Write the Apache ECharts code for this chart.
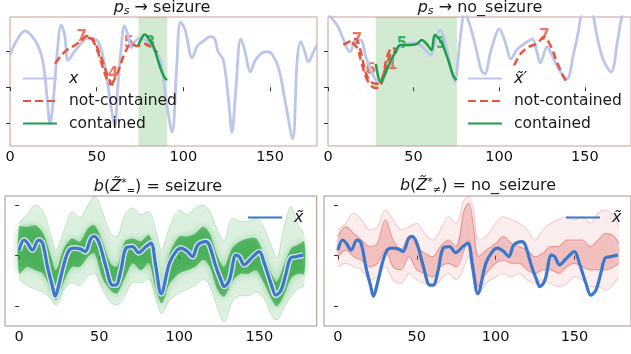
<!DOCTYPE html>
<html>
<head>
<meta charset="utf-8">
<script src="https://cdn.jsdelivr.net/npm/echarts@6/dist/echarts.min.js"></script>
<style>
  html, body { margin: 0; padding: 0; background: #fff; }
  #chart { width: 631px; height: 354px; }
</style>
</head>
<body>
<div id="chart"></div>
<script>
// ---- top left: p_s -> seizure ----
var tlX = [[0,0.90],[4,1.32],[8.7,1.57],[12,1.46],[16,1.18],[19,0.71],[21.5,-0.33],[23,-1.03],[25,-0.35],[27,0.85],[29.5,1.74],[31.5,1.46],[33.5,0.75],[37,0.99],[42,1.27],[45,1.38],[50,1.32],[53,0.99],[56,0.20],[58.5,-0.63],[60.5,-1.10],[62,-0.08],[64,1.04],[66,1.71],[68,1.46],[70,1.10],[72,1.27],[75,1.38],[78,1.32],[81,1.18],[84,0.99],[87,0.71],[90,-0.35],[93.5,-1.25],[96,0.48],[98.3,1.82],[101,1.60],[105,0.82],[108,1.15],[111,1.27],[115.6,1.41],[118,1.35],[120,0.99],[123,0.76],[126,-0.35],[128,-1.25],[130,-0.20],[133,1.35],[135,1.10],[138.7,0.43],[141,0.71],[144.5,0.93],[148,0.99],[151,0.93],[155,0.51],[159,-0.49],[163,-1.44],[165.5,0.71],[167.6,1.27],[170,0.99],[172,0.71],[175,0.99],[177,1.18]];
var tlRedA = [[26,0.66],[28.9,0.85],[32.8,1.04],[37.6,1.18],[41.6,1.32],[44,1.43],[46.2,1.41],[50,1.07],[53.8,0.51],[56.6,0.15],[58.4,0.06]];
var tlRedB = [[45.1,1.38],[48,1.32],[52,0.90],[55.5,0.43],[57.8,0.15],[59.5,0.06]];
var tlRedC = [[58.4,0.06],[61.8,0.37],[65.3,0.85],[68.2,1.15],[69.4,1.21],[73.4,1.15],[78,1.21],[82,1.10],[85,0.96]];
var tlGreen = [[74,1.17],[76,1.38],[77.6,1.47],[79,1.42],[81,1.28],[83,1.10],[85,0.80],[87,0.50],[89,0.28],[90.5,0.20]];
var tlShade = [74, 90.7];
var tlRedTags = [[41.4,1.40,'7'],[59.5,0.38,'4'],[68.4,1.22,'5']];
var tlGreenTags = [[80.9,1.22,'3']];

// ---- top right: p_s -> no_seizure ----
var trX = [[0,2.05],[3,1.88],[6,1.68],[8.6,1.38],[11,1.10],[13,0.99],[16,1.32],[19,1.32],[22,0.87],[25,0.48],[28,0.20],[31,0.12],[34,0.43],[37,0.76],[42,1.13],[46,1.21],[50,1.24],[54,1.18],[57,1.04],[60,0.90],[63,1.38],[65.5,1.60],[68,1.32],[71,0.71],[74,0.15],[77,1.27],[80,2.10],[83,1.71],[86,1.18],[89.5,0.48],[91.5,0.37],[95,0.99],[98,1.46],[100,1.63],[104,1.18],[106.8,0.79],[110.7,1.07],[116.4,1.27],[119.3,1.35],[122,0.99],[124,0.68],[128,1.13],[130.8,0.90],[134.7,0.51],[139.5,0.23],[143.3,0.90],[146.2,1.54],[148,2.02],[151,2.22],[154,2.16],[157,1.46],[160.6,0.79],[165.4,0.43],[169.3,1.35],[172,2.02],[175,2.22]];
var trRedA = [[9,1.18],[12.5,1.27],[16,1.35],[19,1.02],[21,0.60],[23,0.30],[26,0.12],[29,0.10],[32,0.30],[34.5,0.85],[37.5,1.10],[40,1.05]];
var trRedB = [[14,1.25],[17,1.10],[19.5,0.70],[22,0.30],[25,0.05],[28,-0.02],[31,0.08],[33,0.45],[35.5,0.80],[38,1.00],[40.5,0.98]];
var trRedC = [[108.7,0.61],[112.6,0.94],[117.4,1.13],[122.2,1.22],[126,1.40],[129.9,1.17],[133.7,0.71],[137.6,0.29],[139.5,0.15]];
var trGreen = [[28,0.65],[30.7,0.15],[35.5,0.62],[39.4,0.99],[42.3,1.18],[48,1.18],[52,1.21],[54.8,1.32],[57.6,1.21],[60.5,1.04],[62.4,1.46],[66,1.27],[70,0.79],[73,0.34],[75,0.20]];
var trShade = [27.9, 75.3];
var trRedTags = [[16.9,1.31,'7'],[25,0.47,'6'],[37.5,0.61,'1'],[126.4,1.43,'7']];
var trGreenTags = [[43.2,1.19,'5'],[66.3,1.19,'3']];

// ---- bottom: x~ and the sampled neighbourhoods ----
var xTilde = [[0,0.11],[3,0.31],[5.2,0.25],[8.3,0.11],[12.1,0.31],[14.6,0.25],[17.7,-0.22],[20.8,-0.61],[22.5,-0.80],[25,-0.55],[28.1,-0.15],[31.2,0.11],[34.4,0.15],[38.5,0.13],[41.2,0.08],[44.8,0.34],[46.9,0.38],[50,0.25],[54.2,-0.22],[58.3,-0.58],[60.4,-0.58],[63.6,-0.28],[66.7,0.15],[70.8,0.18],[74.6,0.06],[79.2,0.18],[82.3,0.25],[85.4,-0.22],[88.7,-0.75],[93.8,-0.15],[97.9,0.08],[101,0.15],[105.2,0.08],[108.3,-0.02],[111.5,0.21],[116.7,0.28],[118.8,0.21],[122.9,-0.22],[126,-0.48],[128.1,-0.61],[131.3,-0.48],[135.4,0.01],[137.5,-0.02],[140.6,-0.18],[143.8,-0.09],[146.9,0.01],[150,0.08],[153.1,-0.15],[157.3,-0.55],[160.4,-0.78],[163.6,-0.68],[166.7,-0.35],[169.4,-0.05],[172.9,-0.02],[177.5,0.01]];

var blSteps = [0,5,10,15,20,23,28,33,38,43,47,52,57,61,66,71,76,81,85,89,94,100,105,110,115,119,124,128,133,138,143,148,153,158,161,165,170,174,178];
var blCoreHi = [0.57,0.57,0.60,0.44,-0.02,-0.29,0.15,0.34,0.28,0.54,0.60,0.28,-0.15,-0.22,0.28,0.34,0.28,0.41,0.02,-0.55,0.05,0.38,0.38,0.44,0.57,0.44,-0.02,-0.22,0.15,0.28,0.34,0.34,0.02,-0.38,-0.51,-0.22,0.15,0.21,0.28];
var blCoreLo = [-0.35,-0.22,-0.29,-0.36,-0.68,-0.88,-0.51,-0.22,-0.22,-0.02,0.05,-0.44,-0.68,-0.75,-0.44,-0.15,-0.29,-0.15,-0.62,-0.94,-0.55,-0.35,-0.29,-0.22,-0.08,-0.22,-0.68,-0.81,-0.51,-0.36,-0.36,-0.29,-0.55,-0.88,-1.00,-0.81,-0.44,-0.36,-0.36];
var blOuterHi = [0.64,0.81,1.00,0.87,0.38,0.11,0.50,0.87,0.74,1.00,1.17,0.87,0.44,0.38,0.81,0.94,0.81,0.87,0.54,0.11,0.57,0.90,0.81,0.94,1.00,0.87,0.50,0.30,0.74,0.68,0.68,0.74,0.54,0.15,-0.05,0.50,0.97,0.61,0.44];
var blOuterLo = [-0.46,-0.59,-0.66,-0.72,-0.85,-0.98,-0.66,-0.53,-0.59,-0.40,-0.35,-0.66,-0.92,-0.98,-0.79,-0.53,-0.53,-0.46,-0.79,-1.14,-0.88,-0.74,-0.66,-0.59,-0.46,-0.59,-1.05,-1.31,-0.92,-0.79,-0.79,-0.72,-0.85,-1.20,-1.27,-1.05,-0.79,-0.66,-0.59];

var brSteps = [0,5,10,15,20,25,30,35,40,45,50,55,60,65,70,75,80,83,86,89,94,100,105,110,115,120,125,130,135,140,145,150,155,160,165,170,175,178];
var brOuterHi = [0.51,0.64,0.84,0.71,0.51,0.57,0.90,0.71,0.51,0.57,0.64,0.44,0.31,0.51,0.77,0.64,1.10,1.17,0.90,0.31,0.38,0.64,0.77,0.71,0.64,0.51,0.31,0.51,0.64,0.71,0.77,0.71,0.77,0.64,0.84,0.90,0.77,0.57];
var brOuterLo = [-0.22,-0.15,-0.22,-0.28,-0.48,-0.42,-0.22,-0.48,-0.55,-0.35,-0.48,-0.55,-0.61,-0.48,-0.35,-0.48,-0.22,-0.02,-0.48,-0.75,-0.55,-0.42,-0.35,-0.42,-0.35,-0.48,-0.55,-0.48,-0.55,-0.61,-0.55,-0.42,-0.48,-0.61,-0.61,-0.68,-0.55,-0.42];
var brCoreHi = [0.38,0.57,0.44,0.31,0.18,0.24,0.71,0.31,0.11,0.38,0.18,0.05,-0.02,0.18,0.31,0.18,0.90,1.04,0.57,-0.02,0.11,0.24,0.38,0.24,0.18,0.11,-0.02,0.05,0.18,0.18,0.31,0.31,0.31,0.18,0.31,0.44,0.38,0.24];
var brCoreLo = [-0.02,0.11,-0.02,-0.09,-0.22,-0.15,0.11,-0.22,-0.28,-0.02,-0.28,-0.35,-0.42,-0.22,-0.15,-0.22,0.11,0.31,-0.15,-0.61,-0.35,-0.15,-0.09,-0.15,-0.15,-0.28,-0.35,-0.28,-0.28,-0.35,-0.22,-0.15,-0.22,-0.28,-0.28,-0.28,-0.22,-0.15];

var xTicks = [0, 50, 100, 150];
var yTicks = [-1, 0, 1];

var FONT = 'DejaVu Sans';
var C_LIGHT = '#bcc5ea', C_RED = '#e8553f', C_GREEN = '#1aa048', C_BLUE = '#3b78c9';

var chart = echarts.init(document.getElementById('chart'), null, { renderer: 'canvas' });

function xAxis(idx, min, max) {
	return {
		type: 'value', gridIndex: idx, min: min, max: max,
		axisLine: { show: false },
		axisTick: { show: true, customValues: xTicks, length: 4, lineStyle: { color: '#333' } },
		axisLabel: { customValues: xTicks, fontSize: 14.5, color: '#111', margin: 4, fontFamily: FONT },
		splitLine: { show: false }
	};
}
function yAxis(idx, min, max) {
	return {
		type: 'value', gridIndex: idx, min: min, max: max,
		axisLine: { show: false },
		axisTick: { show: true, customValues: yTicks, length: 4, lineStyle: { color: '#333' } },
		axisLabel: { show: false },
		splitLine: { show: false }
	};
}
function line(idx, name, data, color, width, type) {
	return {
		type: 'line', name: name, xAxisIndex: idx, yAxisIndex: idx, data: data,
		smooth: 0.35, symbol: 'none', clip: true, silent: true,
		lineStyle: { color: color, width: width, type: type || 'solid' }
	};
}
function zip(xs, ys) {
	return xs.map(function (x, i) { return [x, ys[i]]; });
}
function tags(idx, data, color) {
	return {
		type: 'scatter', xAxisIndex: idx, yAxisIndex: idx, data: data, symbolSize: 1,
		itemStyle: { color: 'transparent' }, silent: true,
		label: { show: true, position: 'inside', formatter: function (p) { return p.data[2]; },
			color: color, fontSize: 15, fontWeight: 'bold', fontFamily: FONT }
	};
}
function shade(idx, range) {
	return {
		type: 'line', xAxisIndex: idx, yAxisIndex: idx, data: [], silent: true,
		markArea: { silent: true, itemStyle: { color: 'rgba(70,170,70,0.25)' },
			data: [[{ xAxis: range[0] }, { xAxis: range[1] }]] }
	};
}
// filled band between two read envelopes, edges softened
function band(idx, xs, lo, hi, color, blur) {
	return {
		type: 'custom', coordinateSystem: 'cartesian2d', xAxisIndex: idx, yAxisIndex: idx,
		silent: true, clip: true, data: [[xs[0], lo[0]]],
		renderItem: function (params, api) {
			var top = xs.map(function (x, i) { return api.coord([x, hi[i]]); });
			var bot = xs.map(function (x, i) { return api.coord([x, lo[i]]); }).reverse();
			return { type: 'polygon', shape: { points: top.concat(bot), smooth: 0.3 },
				style: { fill: color, shadowBlur: blur, shadowColor: color } };
		}
	};
}
function legend(left, top, names) {
	return {
		left: left, top: top, orient: 'vertical', data: names, selectedMode: false, padding: 0,
		itemWidth: 34, itemHeight: 14, itemGap: 6.5,
		itemStyle: { opacity: 0 },
		formatter: function (n) { return /^x/.test(n) ? '{i|' + n + '}' : n; },
		textStyle: { fontSize: 15.5, color: '#1a1a1a', fontFamily: FONT, padding: [0, 0, 0, 7],
			rich: { i: { fontStyle: 'italic', fontSize: 16, fontFamily: FONT } } }
	};
}
function title(x, y, text) {
	return {
		type: 'text', x: x, y: y, silent: true,
		style: {
			text: text, align: 'center', verticalAlign: 'middle', fill: '#1a1a1a',
			fontSize: 16, fontFamily: FONT,
			rich: {
				i: { fontStyle: 'italic', fontSize: 16, fontFamily: FONT },
				s: { fontStyle: 'italic', fontSize: 11, fontFamily: FONT, padding: [7, 0, 0, 0] },
				sup: { fontSize: 11, fontFamily: FONT, padding: [0, 0, 7, 0] },
				sub: { fontSize: 10, fontFamily: FONT, padding: [8, 0, 0, 0] }
			}
		}
	};
}

var gridStyle = { show: true, borderWidth: 1, backgroundColor: '#fff' };
var option = {
	animation: false,
	backgroundColor: '#fff',
	textStyle: { fontFamily: FONT },
	grid: [
		Object.assign({ left: 10, top: 17, width: 307, height: 129, borderColor: '#c99e90' }, gridStyle),
		Object.assign({ left: 328, top: 17, width: 307, height: 129, borderColor: '#c99e90' }, gridStyle),
		Object.assign({ left: 5, top: 196, width: 311.7, height: 130, borderColor: '#a89088' }, gridStyle),
		Object.assign({ left: 324, top: 196, width: 311.7, height: 130, borderColor: '#a89088' }, gridStyle)
	],
	xAxis: [xAxis(0, 0, 177), xAxis(1, 0, 177), xAxis(2, -8.85, 185.85), xAxis(3, -8.85, 185.85)],
	yAxis: [yAxis(0, -1.64, 1.96), yAxis(1, -1.64, 1.96), yAxis(2, -1.39, 1.18), yAxis(3, -1.39, 1.18)],
	legend: [
		legend(22, 70.5, ['x', 'not-contained', 'contained']),
		legend(467, 70.5, ['x\u0303\u2032', 'not-contained', 'contained']),
		legend(247, 209.5, ['x\u0303']),
		legend(565, 209.5, ['x\u0303'])
	],
	graphic: [
		title(162, 8, '{i|p}{s|s} \u2192 seizure'),
		title(480, 8, '{i|p}{s|s} \u2192 no_seizure'),
		title(158, 187, '{i|b}({i|Z\u0303}{sup|*}{sub|=}) = seizure'),
		title(478, 186, '{i|b}({i|Z\u0303}{sup|*}{sub|\u2260}) = no_seizure')
	],
	series: [
		shade(0, tlShade),
		line(0, 'x', tlX, C_LIGHT, 2.8),
		line(0, 'not-contained', tlRedA, C_RED, 2.5, [8, 4]),
		line(0, 'not-contained', tlRedB, C_RED, 2.5, [8, 4]),
		line(0, 'not-contained', tlRedC, C_RED, 2.5, [8, 4]),
		line(0, 'contained', tlGreen, C_GREEN, 2.5),
		tags(0, tlRedTags, C_RED),
		tags(0, tlGreenTags, C_GREEN),

		shade(1, trShade),
		line(1, 'x\u0303\u2032', trX, C_LIGHT, 2.8),
		line(1, 'not-contained', trRedA, C_RED, 2.5, [8, 4]),
		line(1, 'not-contained', trRedB, C_RED, 2.5, [8, 4]),
		line(1, 'not-contained', trRedC, C_RED, 2.5, [8, 4]),
		line(1, 'contained', trGreen, C_GREEN, 2.5),
		tags(1, trRedTags, C_RED),
		tags(1, trGreenTags, C_GREEN),

		// green neighbourhood: faint outer spread, dense core
		band(2, blSteps, blOuterLo, blOuterHi, 'rgba(70,175,90,0.16)', 8),
		band(2, blSteps, blCoreLo, blCoreHi, 'rgba(25,155,45,0.6)', 7),
		line(2, 'g1', zip(blSteps, blOuterHi), 'rgba(40,160,60,0.22)', 1),
		line(2, 'g2', zip(blSteps, blOuterLo), 'rgba(40,160,60,0.22)', 1),
		line(2, 'glow', xTilde, 'rgba(225,232,242,0.9)', 6),
		line(2, 'x\u0303', xTilde, C_BLUE, 3.2),

		// red neighbourhood
		band(3, brSteps, brOuterLo, brOuterHi, 'rgba(230,110,110,0.10)', 6),
		band(3, brSteps, brCoreLo, brCoreHi, 'rgba(215,60,60,0.22)', 6),
		line(3, 'r1', zip(brSteps, brOuterHi), 'rgba(220,70,70,0.22)', 1.2),
		line(3, 'r2', zip(brSteps, brOuterLo), 'rgba(220,70,70,0.22)', 1.2),
		line(3, 'r3', zip(brSteps, brCoreHi), 'rgba(210,50,50,0.35)', 1.2),
		line(3, 'r4', zip(brSteps, brCoreLo), 'rgba(210,50,50,0.35)', 1.2),
		line(3, 'x\u0303', xTilde, C_BLUE, 3.2)
	]
};
chart.setOption(option);
</script>
</body>
</html>
